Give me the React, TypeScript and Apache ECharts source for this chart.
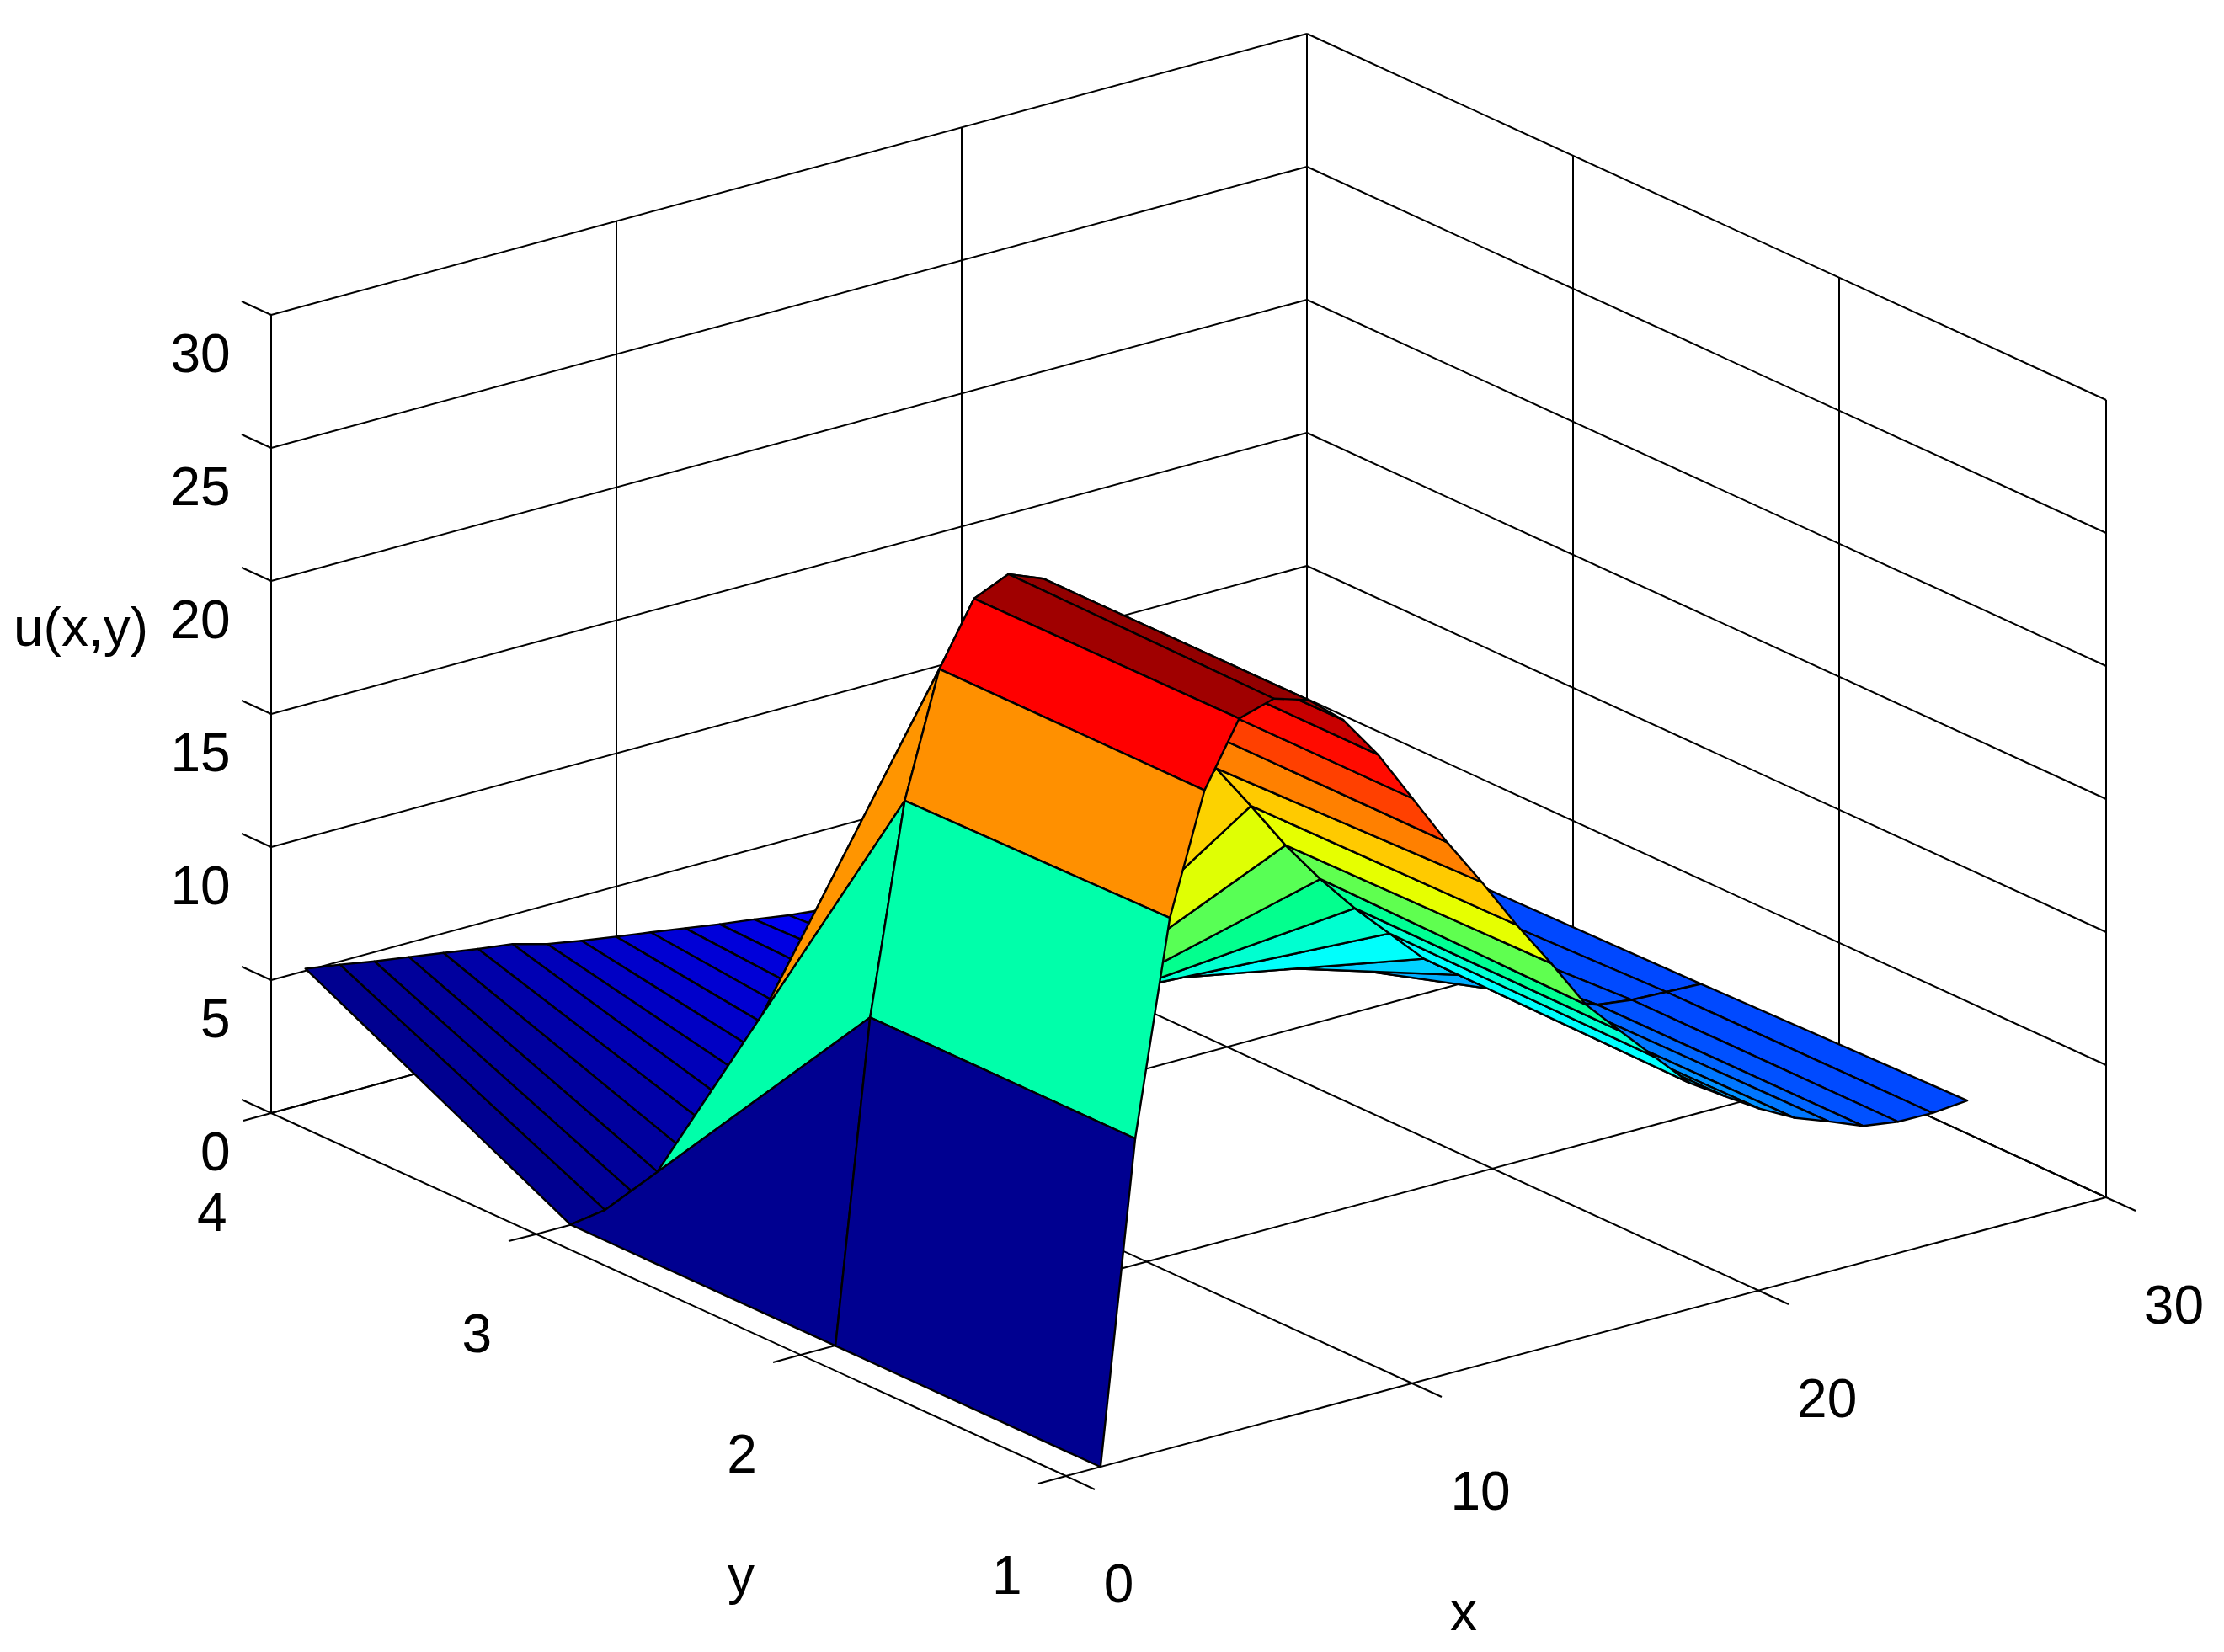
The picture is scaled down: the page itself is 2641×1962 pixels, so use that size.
import React, { useEffect, useRef } from "react";
import * as echarts from "echarts";

const WIDTH = 2641;
const HEIGHT = 1962;

// Surface heights u(x, y), one list per y row, x = 1..26
const xValues = [1,2,3,4,5,6,7,8,9,10,11,12,13,14,15,16,17,18,19,20,21,22,23,24,25,26];
const yValues = [1, 2, 3, 4];
const uRow1 = [0,12,19.95,24.4,26.75,27.15,26.75,25.65,24,22,20,18.15,16.2,14.4,12.5,11.15,9.82,8.5,7.66,6.84,6.15,5.66,5.14,4.95,4.93,5.05];
const uRow2 = [0,12,19.8,24.4,26.7,27.27,26.75,25.6,24,22,20,17.86,16.1,14.27,12.65,11.2,9.9,8.6,7.64,6.75,6.1,5.6,5.12,4.95,4.9,4.85];
const uRow3 = [0,0.2,0.28,0.39,0.64,0.95,1.12,1.4,1.6,1.78,1.9,2.0,2.2,2.6,2.8,3.05,3.2,3.25,3.45,3.6,3.8,4.0,4.2,4.4,4.6,4.7];
const uRow4 = [5.07,4.87,4.64,4.45,4.25,4.05,3.88,3.53,3.3,3.1,2.91,2.71,2.51,2.34,2.14,2.0,1.9,1.8,1.7,1.6,1.5,1.4,1.3,1.2,1.1,1.0];
const uRows = [uRow1, uRow2, uRow3, uRow4];

// Axis ticks
const xTicks = [0, 10, 20, 30];
const yTicks = [1, 2, 3, 4];
const zTicks = [0, 5, 10, 15, 20, 25, 30];

// Colour scale: height -> colour
const colorStopValues = [0,3,4.85,9.8,11.2,12,12.6,14.4,16.2,18.1,19.95,20,22,24.4,25.65,26.75,27.2];
const colorStopColors = ["#000090","#0000ff","#0046ff","#00ffff","#00ffd0","#00ffaa","#00ff90","#5fff50","#e6ff00","#ffcc00","#ff9000","#ff8000","#ff4000","#ff0000","#c80000","#a00000","#900000"];

// Projection of the 3D box on the page
const ORIGIN = [1265.7, 1753.3];
const UX = [41.17, -11.03];
const UY = [-314.67, -143.87];
const UXY = [-0.0556, -0.0367];
const UZ = 31.58;
const X_MIN = 0, X_MAX = 30, Y_MIN = 1, Y_MAX = 4, Z_MIN = 0, Z_MAX = 30;

function project(x: number, y: number, z: number): number[] {
  const t = y - 1;
  return [
    ORIGIN[0] + x * UX[0] + t * UY[0] + x * t * UXY[0],
    ORIGIN[1] + x * UX[1] + t * UY[1] + x * t * UXY[1] - z * UZ,
  ];
}

function hexToRgb(h: string) {
  return [1, 3, 5].map((i) => parseInt(h.slice(i, i + 2), 16));
}
function colorFor(z: number): string {
  const v = colorStopValues;
  if (z <= v[0]) return colorStopColors[0];
  for (let i = 1; i < v.length; i++) {
    if (z <= v[i]) {
      const t = (z - v[i - 1]) / (v[i] - v[i - 1]);
      const a = hexToRgb(colorStopColors[i - 1]);
      const b = hexToRgb(colorStopColors[i]);
      return `rgb(${a.map((c, k) => Math.round(c + (b[k] - c) * t)).join(",")})`;
    }
  }
  return colorStopColors[colorStopColors.length - 1];
}

// Box lines: [x0, y0, z0, x1, y1, z1]
function buildSegments(): number[][] {
  const s: number[][] = [];
  for (const x of xTicks) {
    s.push([x, Y_MIN, Z_MIN, x, Y_MAX, Z_MIN]); // floor
    s.push([x, Y_MAX, Z_MIN, x, Y_MAX, Z_MAX]); // left wall
    s.push([x, Y_MIN, Z_MIN, x, Y_MIN - 0.11, Z_MIN]); // tick
  }
  for (const y of yTicks) {
    s.push([X_MIN, y, Z_MIN, X_MAX, y, Z_MIN]); // floor
    s.push([X_MAX, y, Z_MIN, X_MAX, y, Z_MAX]); // right wall
    s.push([X_MIN, y, Z_MIN, X_MIN - 0.8, y, Z_MIN]); // tick
  }
  for (const z of zTicks) {
    s.push([X_MIN, Y_MAX, z, X_MAX, Y_MAX, z]);
    s.push([X_MAX, Y_MIN, z, X_MAX, Y_MAX, z]);
    s.push([X_MIN, Y_MAX, z, X_MIN, Y_MAX + 0.11, z]); // tick
  }
  return s;
}

// Faces back to front: far rows and far columns first
function buildFaces(): number[][] {
  const f: number[][] = [];
  for (let j = yValues.length - 2; j >= 0; j--) {
    for (let i = xValues.length - 2; i >= 0; i--) f.push([i, j]);
  }
  return f;
}

// Tick labels: [kind, value], kind 0 = z, 1 = y, 2 = x
function buildLabels(): number[][] {
  return [
    ...zTicks.map((v) => [0, v]),
    ...yTicks.map((v) => [1, v]),
    ...xTicks.map((v) => [2, v]),
  ];
}

const FONT = '64px "Liberation Sans", Arial, sans-serif';

export default function App() {
  const ref = useRef<HTMLDivElement>(null);
  useEffect(() => {
    document.body.style.margin = "0";
    const chart = echarts.init(ref.current!, undefined, { renderer: "svg" });
    chart.setOption({
      animation: false,
      backgroundColor: "#ffffff",
      grid: { left: 0, right: 0, top: 0, bottom: 0 },
      xAxis: { type: "value", min: 0, max: WIDTH, show: false },
      yAxis: { type: "value", min: 0, max: HEIGHT, inverse: true, show: false },
      series: [
        {
          type: "custom",
          coordinateSystem: "cartesian2d",
          silent: true,
          clip: false,
          data: buildSegments(),
          renderItem: (_p: any, api: any) => {
            const a = api.coord(project(api.value(0), api.value(1), api.value(2)));
            const b = api.coord(project(api.value(3), api.value(4), api.value(5)));
            return {
              type: "line",
              shape: {
                x1: Math.round(a[0]),
                y1: Math.round(a[1]),
                x2: Math.round(b[0]),
                y2: Math.round(b[1]),
              },
              style: { stroke: "#000000", lineWidth: 2, fill: "none" },
            };
          },
        },
        {
          type: "custom",
          coordinateSystem: "cartesian2d",
          silent: true,
          clip: false,
          z: 3,
          data: buildFaces(),
          renderItem: (p: any, api: any) => {
            const i = api.value(0);
            const j = api.value(1);
            const corner = (ci: number, cj: number) =>
              api.coord(project(xValues[ci], yValues[cj], uRows[cj][ci]));
            return {
              type: "polygon",
              z2: p.dataIndex,
              shape: {
                points: [corner(i, j), corner(i + 1, j), corner(i + 1, j + 1), corner(i, j + 1)],
              },
              style: {
                fill: colorFor(uRows[j][i]),
                stroke: "#000000",
                lineWidth: 2.4,
                lineJoin: "round",
              },
            };
          },
        },
        {
          type: "custom",
          coordinateSystem: "cartesian2d",
          silent: true,
          clip: false,
          z: 4,
          data: buildLabels(),
          renderItem: (_p: any, api: any) => {
            const kind = api.value(0);
            const v = api.value(1);
            let pos: number[];
            let align = "center";
            if (kind === 0) {
              pos = project(X_MIN, Y_MAX, v);
              pos = [pos[0] - 48, pos[1] + 46];
              align = "right";
            } else if (kind === 1) {
              pos = project(X_MIN, v, Z_MIN);
              pos = [pos[0] - 70, pos[1] + 118];
            } else {
              pos = project(v, Y_MIN, Z_MIN);
              pos = [pos[0] + 45, pos[1] + 128];
              align = "left";
            }
            const c = api.coord(pos);
            return {
              type: "text",
              x: c[0],
              y: c[1],
              style: {
                text: String(v),
                font: FONT,
                fill: "#000000",
                textAlign: align,
                textVerticalAlign: "middle",
              },
            };
          },
        },
      ],
      graphic: [
        { type: "text", x: 96, y: 745, z: 10, style: { text: "u(x,y)", font: FONT, fill: "#000", textAlign: "center", textVerticalAlign: "middle" } },
        { type: "text", x: 880, y: 1871, z: 10, style: { text: "y", font: FONT, fill: "#000", textAlign: "center", textVerticalAlign: "middle" } },
        { type: "text", x: 1738, y: 1914, z: 10, style: { text: "x", font: FONT, fill: "#000", textAlign: "center", textVerticalAlign: "middle" } },
      ],
    });
    return () => chart.dispose();
  }, []);
  return (
    <div
      ref={ref}
      style={{ position: "absolute", left: 0, top: 0, width: WIDTH, height: HEIGHT, background: "#fff" }}
    />
  );
}
